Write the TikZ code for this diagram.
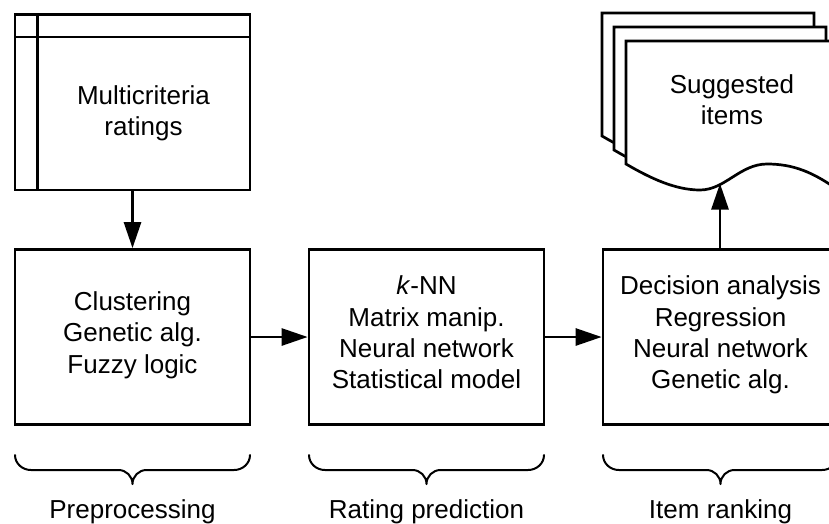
\documentclass[tikz,border=0pt]{standalone}
\usepackage{fontspec}
\setmainfont{Liberation Sans}
\usetikzlibrary{arrows.meta}
\tikzset{
  lw/.style={line width=2.7pt},
  box/.style={draw, lw, fill=white, minimum width=235pt, minimum height=175pt,
    inner sep=0pt, align=center, font=\fontsize{26}{31.3}\selectfont,
    execute at begin node=\strut, execute at end node=\strut},
  lbl/.style={align=center, inner sep=0pt, font=\fontsize{26}{31.3}\selectfont,
    execute at begin node=\strut, execute at end node=\strut},
  phaselbl/.style={inner sep=0pt, anchor=base, font=\fontsize{26}{31.3}\selectfont},
  arr/.style={lw, -{Triangle[length=26pt,width=17pt]}},
  brc/.style={line width=2pt, line join=round, line cap=round},
}
\newcommand\mydoc[2]{%
  \draw[lw, fill=white] (#1,#2) -- ++(212,0) -- ++(0,149)
    .. controls ++(-25,-18) and ++(26,0) .. ++(-71,-26)
    .. controls ++(-27,0) and ++(25,0) .. ++(-67,26)
    .. controls ++(-25,0) and ++(24,14) .. ++(-74,-26) -- cycle;}
% #1 left x, #2 centre x, #3 right x
\newcommand\mybrace[3]{%
  \draw[brc] (#1,455) to[out=-90,in=180] ++(16,15) -- ++(#2-#1-30,0)
    to[out=0,in=90] ++(14,14) to[out=90,in=180] ++(14,-14)
    -- ++(#3-#2-30,0) to[out=0,in=-90] ++(16,-15);}
\begin{document}
\begin{tikzpicture}[x=1pt,y=-1pt]
\useasboundingbox (0,0) rectangle (829,523);
\clip (0,0) rectangle (829,523);
% internal storage
\node[draw, lw, minimum width=235pt, minimum height=175.5pt, inner sep=0pt] (store) at (132.5,102.25) {};
\draw[lw] (37.5,14.5) -- (37.5,190);
\draw[lw] (15,37) -- (250,37);
\node[lbl] (storetxt) at (143.5,115) {Multicriteria\\ratings};
% documents
\mydoc{602}{13}
\mydoc{614}{27}
\mydoc{626}{41}
\node[lbl] (doctxt) at (732,104) {Suggested\\items};
\coordinate (docbot) at (720,183.5);
% boxes
\node[box] (pre) at (132.5,337) {Clustering\\Genetic alg.\\Fuzzy logic};
\node[box] (pred) at (426.5,337) {\textit{k}-NN\\Matrix manip.\\Neural network\\Statistical model};
\node[box] (rank) at (720.5,337) {Decision analysis\\Regression\\Neural network\\Genetic alg.};
% arrows
\draw[arr] (store.south -| pre.north) -- (pre.north);
\draw[arr] (pre.east) -- (pred.west);
\draw[arr] (pred.east) -- (rank.west);
\draw[arr] (rank.north -| docbot) -- (docbot);
% braces
\mybrace{15}{132.5}{250}
\mybrace{309}{426.5}{544}
\mybrace{603}{720.5}{838}
\node[phaselbl] (c1) at (132.5,518) {Preprocessing};
\node[phaselbl] (c2) at (426.5,518) {Rating prediction};
\node[phaselbl] (c3) at (720.5,518) {Item ranking};
\end{tikzpicture}
\end{document}
